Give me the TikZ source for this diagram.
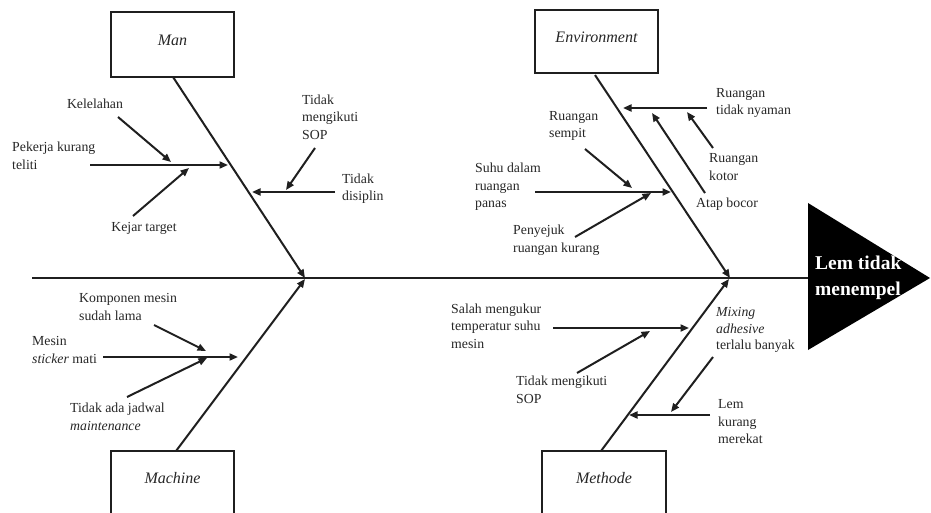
\documentclass[tikz,border=0pt]{standalone}
\usepackage{fontspec}
\setmainfont{Liberation Serif}
\usetikzlibrary{arrows.meta}
\begin{document}
\begin{tikzpicture}[x=1pt,y=-1pt,
  ink/.style={draw=black!88},
  bone/.style={ink, line width=2pt, -{Triangle[length=8.5pt,width=7pt]}},
  sub/.style={ink, line width=2pt, -{Triangle[length=8.5pt,width=7pt]}},
  catbox/.style={ink, line width=1.2pt, rectangle, inner sep=0pt},
  cattext/.style={inner sep=0pt, font=\fontsize{16}{19}\selectfont\itshape, text=black!85},
  lbl/.style={inner sep=0pt, align=left, anchor=west, font=\fontsize{13.8}{17.5}\selectfont, text=black!85},
  lblc/.style={lbl, anchor=center, align=center}]
\useasboundingbox (0,0) rectangle (931,513);
\clip (0,0) rectangle (931,513);

% ---- category boxes
\node[catbox, minimum width=123pt, minimum height=65pt] (man) at (172.5,44.5) {};
\node[cattext] (mantxt) at (172.5,40) {Man};
\node[catbox, minimum width=123pt, minimum height=63pt] (env) at (596.5,41.5) {};
\node[cattext] (envtxt) at (596.5,37) {Environment};
\node[catbox, minimum width=123pt, minimum height=80pt] (mach) at (172.5,491) {};
\node[cattext] (machtxt) at (172.5,478) {Machine};
\node[catbox, minimum width=124pt, minimum height=80pt] (meth) at (604,491) {};
\node[cattext] (methtxt) at (604,478) {Methode};

% ---- effect (head)
\coordinate (headL) at (808,278);
\fill[black] (808,203) -- (930,278) -- (808,350) -- cycle;
\node[inner sep=0pt, anchor=west, align=left, text=white,
      font=\fontsize{19.5}{26}\selectfont\bfseries] (effect) at (815,278) {Lem tidak\\menempel};

% ---- spine
\coordinate (spineL) at (32,278);
\draw[ink, line width=2pt] (spineL) -- (headL);

% ---- main bones
\coordinate (manS) at (173,77);
\coordinate (manE) at (305,278);
\coordinate (envS) at (595,75);
\coordinate (envE) at (730,278);
\coordinate (machS) at (176,451);
\coordinate (machE) at (305,279);
\coordinate (methS) at (601,451);
\coordinate (methE) at (729,279);
\draw[bone] (manS) -- (manE);
\draw[bone] (envS) -- (envE);
\draw[bone] (machS) -- (machE);
\draw[bone] (methS) -- (methE);

% ---- Man causes
\node[lblc] (kel) at (95,104) {Kelelahan};
\node[lbl] (pek) at (12,156) {Pekerja kurang\\teliti};
\node[lblc] (kej) at (144,228) {Kejar target};
\node[lbl] (tsop) at (302,117) {Tidak\\mengikuti\\SOP};
\node[lbl] (tdis) at (342,188.5) {Tidak\\disiplin};
\coordinate (a1s) at (90,165);   \coordinate (a1e) at (228,165);
\coordinate (a2s) at (118,117);  \coordinate (a2e) at (171,162);
\coordinate (a3s) at (133,216);  \coordinate (a3e) at (189,168);
\coordinate (a4s) at (335,192);  \coordinate (a4e) at (252,192);
\coordinate (a5s) at (315,148);  \coordinate (a5e) at (286,190);
\draw[sub] (a1s) -- (a1e);
\draw[sub] (a2s) -- (a2e);
\draw[sub] (a3s) -- (a3e);
\draw[sub] (a4s) -- (a4e);
\draw[sub] (a5s) -- (a5e);

% ---- Environment causes
\node[lbl] (rtn) at (716,103) {Ruangan\\tidak nyaman};
\node[lbl] (rsem) at (549,126) {Ruangan\\sempit};
\node[lbl] (rkot) at (709,167) {Ruangan\\kotor};
\node[lbl] (atap) at (696,204) {Atap bocor};
\node[lbl] (suhu) at (475,187) {Suhu dalam\\ruangan\\panas};
\node[lbl] (peny) at (513,240) {Penyejuk\\ruangan kurang};
\coordinate (e1s) at (707,108);  \coordinate (e1e) at (623,108);
\coordinate (e2s) at (713,148);  \coordinate (e2e) at (687,112);
\coordinate (e3s) at (705,193);  \coordinate (e3e) at (652,113);
\coordinate (e4s) at (585,149);  \coordinate (e4e) at (632,188);
\coordinate (e5s) at (535,192);  \coordinate (e5e) at (671,192);
\coordinate (e6s) at (575,237);  \coordinate (e6e) at (651,193);
\draw[sub] (e1s) -- (e1e);
\draw[sub] (e2s) -- (e2e);
\draw[sub] (e3s) -- (e3e);
\draw[sub] (e4s) -- (e4e);
\draw[sub] (e5s) -- (e5e);
\draw[sub] (e6s) -- (e6e);

% ---- Machine causes
\node[lbl] (komp) at (79,307) {Komponen mesin\\sudah lama};
\node[lbl] (mes) at (32,350) {Mesin\\\textit{sticker} mati};
\node[lbl] (jad) at (70,417) {Tidak ada jadwal\\\textit{maintenance}};
\coordinate (m1s) at (103,357);  \coordinate (m1e) at (238,357);
\coordinate (m2s) at (154,325);  \coordinate (m2e) at (206,351);
\coordinate (m3s) at (127,397);  \coordinate (m3e) at (207,358);
\draw[sub] (m1s) -- (m1e);
\draw[sub] (m2s) -- (m2e);
\draw[sub] (m3s) -- (m3e);

% ---- Methode causes
\node[lbl] (sal) at (451,326) {Salah mengukur\\temperatur suhu\\mesin};
\node[lbl] (tms) at (516,390) {Tidak mengikuti\\SOP};
\node[lbl, font=\fontsize{13.8}{16.2}\selectfont] (mix) at (716,330) {\textit{Mixing}\\\textit{adhesive}\\terlalu banyak};
\node[lbl] (lem) at (718,422) {Lem\\kurang\\merekat};
\coordinate (t1s) at (553,328);  \coordinate (t1e) at (689,328);
\coordinate (t2s) at (577,373);  \coordinate (t2e) at (650,331);
\coordinate (t3s) at (710,415);  \coordinate (t3e) at (629,415);
\coordinate (t4s) at (713,357);  \coordinate (t4e) at (671,412);
\draw[sub] (t1s) -- (t1e);
\draw[sub] (t2s) -- (t2e);
\draw[sub] (t3s) -- (t3e);
\draw[sub] (t4s) -- (t4e);
\end{tikzpicture}
\end{document}
